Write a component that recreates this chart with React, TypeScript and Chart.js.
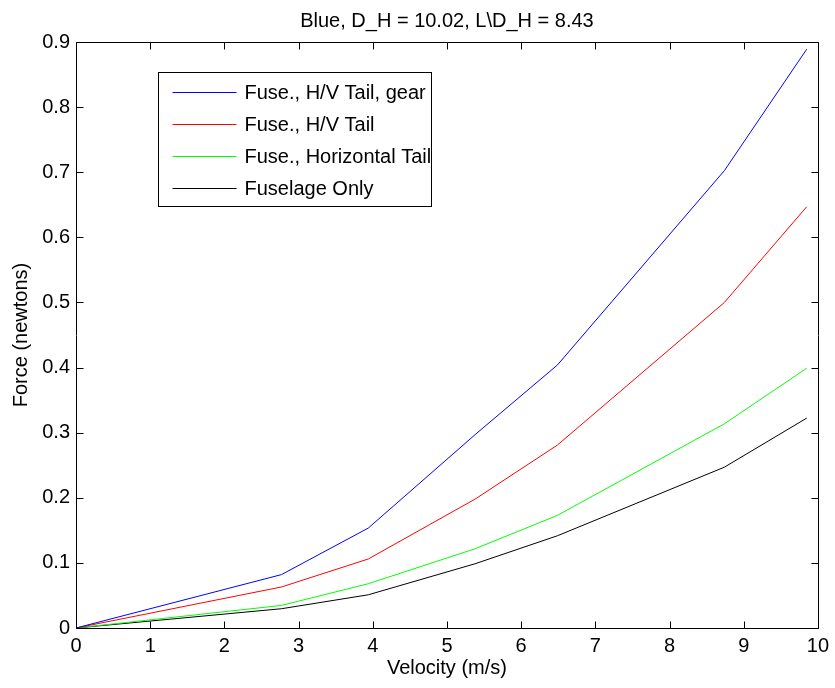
import React, { useEffect, useRef } from 'react';
import { Chart, registerables } from 'chart.js';

Chart.register(...registerables);

// ---- data ----
const velocity = [0, 2.77, 3.94, 5.38, 6.49, 8.74, 9.85];
const fuseHVTailGear = [0, 0.082, 0.1535, 0.297, 0.404, 0.7025, 0.889];
const fuseHVTail = [0, 0.063, 0.106, 0.198, 0.281, 0.5, 0.647];
const fuseHorizontalTail = [0, 0.0347, 0.068, 0.1217, 0.173, 0.3136, 0.399];
const fuselageOnly = [0, 0.0296, 0.051, 0.0987, 0.1417, 0.247, 0.3224];

const seriesLabels = [
  'Fuse., H/V Tail, gear',
  'Fuse., H/V Tail',
  'Fuse., Horizontal Tail',
  'Fuselage Only',
];
const seriesValues = [fuseHVTailGear, fuseHVTail, fuseHorizontalTail, fuselageOnly];
const seriesColors = ['#0000ff', '#ff0000', '#00ff00', '#000000'];

const xTickValues = [0, 1, 2, 3, 4, 5, 6, 7, 8, 9, 10];
const yTickValues = [0, 0.1, 0.2, 0.3, 0.4, 0.5, 0.6, 0.7, 0.8, 0.9];

const chartTitle = 'Blue, D_H = 10.02, L\\D_H = 8.43';
const xTitle = 'Velocity (m/s)';
const yTitle = 'Force (newtons)';

const FONT = '"Liberation Sans", Arial, Helvetica, sans-serif';

const framePlugin = {
  id: 'matlabFrame',
  afterDraw(chart: any) {
    const { ctx, chartArea: a, scales } = chart;
    const xs = scales.x;
    const ys = scales.y;
    const L = Math.round(a.left) + 0.5;
    const R = Math.round(a.right) + 0.5;
    const T = Math.round(a.top) + 0.5;
    const B = Math.round(a.bottom) + 0.5;
    const tl = 7;
    ctx.save();
    ctx.strokeStyle = '#000';
    ctx.lineWidth = 1;
    ctx.beginPath();
    ctx.rect(L, T, R - L, B - T);
    for (const v of xTickValues) {
      const px = Math.round(xs.getPixelForValue(v)) + 0.5;
      ctx.moveTo(px, B);
      ctx.lineTo(px, B - tl);
      ctx.moveTo(px, T);
      ctx.lineTo(px, T + tl);
    }
    for (const v of yTickValues) {
      const py = Math.round(ys.getPixelForValue(v)) + 0.5;
      ctx.moveTo(L, py);
      ctx.lineTo(L + tl, py);
      ctx.moveTo(R, py);
      ctx.lineTo(R - tl, py);
    }
    ctx.stroke();

    // title
    ctx.fillStyle = '#000';
    ctx.font = '20px ' + FONT;
    ctx.textAlign = 'center';
    ctx.textBaseline = 'alphabetic';
    ctx.fillText(chartTitle, (a.left + a.right) / 2, 27);

    // legend
    const bx = Math.round(a.left + 82) + 0.5;
    const by = Math.round(a.top + 30) + 0.5;
    const bw = 273;
    const bh = 134;
    ctx.fillStyle = '#fff';
    ctx.fillRect(bx, by, bw, bh);
    ctx.strokeStyle = '#000';
    ctx.strokeRect(bx, by, bw, bh);
    chart.data.datasets.forEach((ds: any, i: number) => {
      const rowY = a.top + 49.7 + i * 32;
      const ly = Math.round(rowY) + 0.5;
      ctx.strokeStyle = ds.borderColor;
      ctx.beginPath();
      ctx.moveTo(bx + 14, ly);
      ctx.lineTo(bx + 78, ly);
      ctx.stroke();
      ctx.fillStyle = '#000';
      ctx.textAlign = 'left';
      ctx.textBaseline = 'alphabetic';
      ctx.fillText(ds.label, bx + 86, rowY + 7.4);
    });
    ctx.restore();
  },
};

export default function App() {
  const canvasRef = useRef<HTMLCanvasElement | null>(null);

  useEffect(() => {
    const canvas = canvasRef.current;
    if (!canvas) return;
    Chart.defaults.font.family = FONT;
    Chart.defaults.color = '#000';
    const chart = new Chart(canvas, {
      type: 'line',
      data: {
        datasets: seriesLabels.map((label, i) => ({
          label,
          data: velocity.map((x, j) => ({ x, y: seriesValues[i][j] })),
          borderColor: seriesColors[i],
          backgroundColor: seriesColors[i],
          borderWidth: 1,
          pointRadius: 0,
          tension: 0,
          fill: false,
        })),
      },
      options: {
        animation: false,
        responsive: false,
        devicePixelRatio: 1,
        events: [],
        layout: { padding: { top: 42, right: 14, bottom: 0, left: 0 } },
        plugins: {
          legend: { display: false },
          title: { display: false },
          tooltip: { enabled: false },
        },
        scales: {
          x: {
            type: 'linear',
            min: 0,
            max: 10,
            afterBuildTicks: (s: any) => {
              s.ticks = xTickValues.map((v) => ({ value: v }));
            },
            ticks: {
              font: { size: 20, family: FONT },
              color: '#000',
              padding: 6,
              maxRotation: 0,
              autoSkip: false,
              callback: (v: any) => String(v),
            },
            grid: { display: false, drawOnChartArea: false, drawTicks: false },
            border: { display: false },
            title: {
              display: true,
              text: xTitle,
              font: { size: 20, family: FONT },
              color: '#000',
              padding: { top: 0, bottom: 8 },
            },
            afterFit: (s: any) => {
              s.height = 60;
            },
          },
          y: {
            type: 'linear',
            min: 0,
            max: 0.9,
            afterBuildTicks: (s: any) => {
              s.ticks = yTickValues.map((v) => ({ value: v }));
            },
            ticks: {
              font: { size: 20, family: FONT },
              color: '#000',
              padding: 6,
              autoSkip: false,
              callback: (v: any) => (Number(v) === 0 ? '0' : Number(v).toFixed(1)),
            },
            grid: { display: false, drawOnChartArea: false, drawTicks: false },
            border: { display: false },
            title: {
              display: true,
              text: yTitle,
              font: { size: 20, family: FONT },
              color: '#000',
              padding: { top: 9, bottom: 0 },
            },
            afterFit: (s: any) => {
              s.width = 76;
            },
          },
        },
      } as any,
      plugins: [framePlugin],
    });
    return () => chart.destroy();
  }, []);

  return (
    <div style={{ position: 'fixed', left: 0, top: 0, width: 835, height: 688, background: '#fff' }}>
      <canvas ref={canvasRef} width={835} height={688} style={{ display: 'block' }} />
    </div>
  );
}
